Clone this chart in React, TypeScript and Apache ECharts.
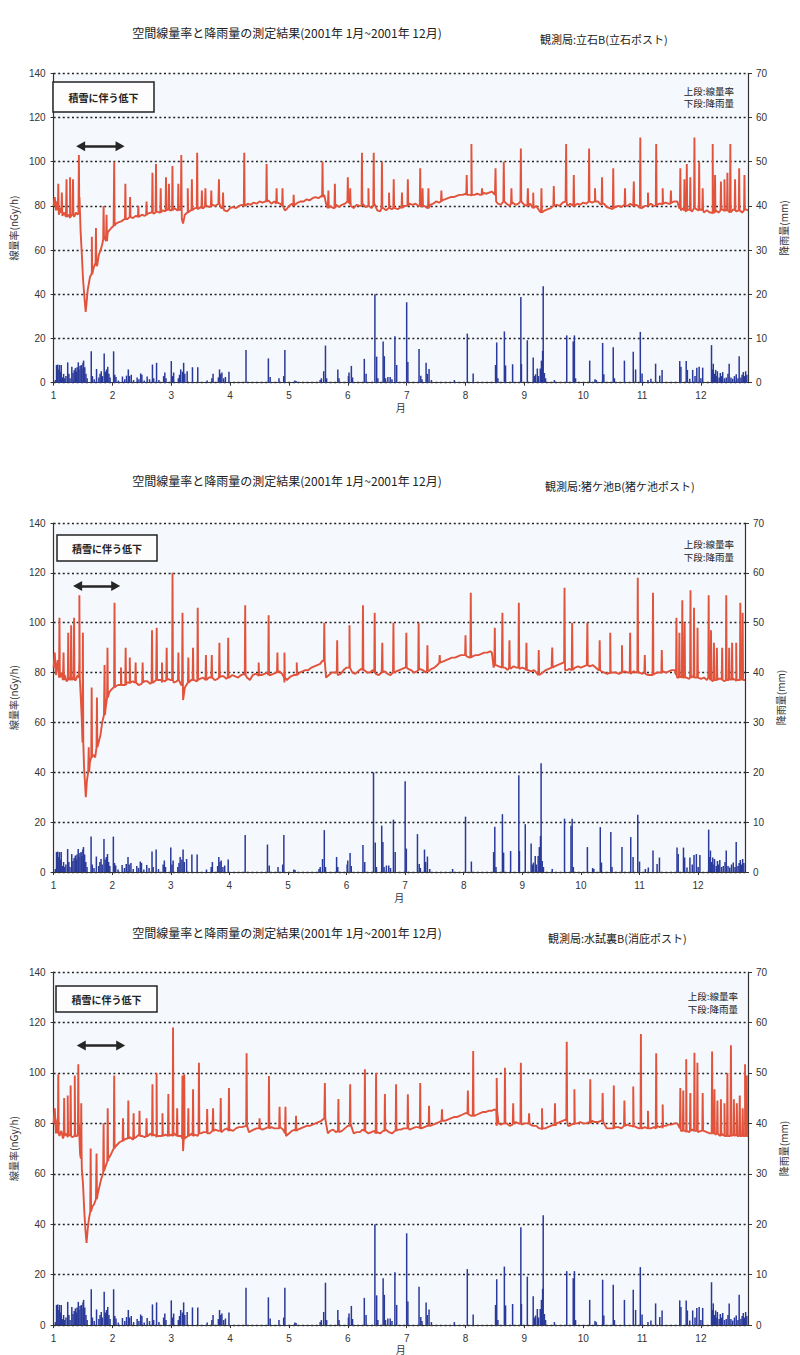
import React, { useEffect, useRef } from "react";
import * as echarts from "echarts";

// ---------- data ----------
const TITLE = "空間線量率と降雨量の測定結果(2001年 1月~2001年 12月)";
const STATIONS = ["観測局:立石B(立石ポスト)", "観測局:猪ケ池B(猪ケ池ポスト)", "観測局:水試裏B(消庇ポスト)"];
const MONTH_TICKS = [1, 2, 3, 4, 5, 6, 7, 8, 9, 10, 11, 12];

// dose-rate baseline [month, nGy/h]
const BASE_1 = [
  [1.00,80],[1.02,84],[1.04,78],[1.06,82],[1.09,76],[1.12,79],[1.15,75.5],[1.18,77],[1.21,75],[1.25,76],[1.28,74.5],[1.31,76],[1.35,75],[1.38,77],[1.41,76],[1.44,84],[1.46,68],[1.48,58],[1.50,47],[1.52,40],[1.545,32],[1.56,36],[1.58,42],[1.60,45],[1.62,48],[1.65,50],[1.68,52],[1.71,54],[1.74,53],[1.77,58],[1.80,60],[1.83,63],[1.86,66],[1.89,64],[1.92,68],[1.95,69],[1.98,70],[2.02,71],[2.06,72],[2.10,72.5],[2.15,73],[2.20,74],[2.25,74],[2.30,75],[2.35,74.5],[2.40,75.5],[2.45,75],[2.50,76],[2.55,75.5],[2.60,76.5],[2.65,77],[2.70,76.5],[2.75,77.5],[2.80,77],[2.85,78],[2.90,77.5],[2.95,78.5],[3.00,78],[3.05,79],[3.10,78],[3.15,78.5],[3.18,74],[3.20,72],[3.23,76],[3.28,77.5],[3.33,78],[3.40,79],[3.45,78.5],[3.50,79.5],[3.55,79],[3.60,80],[3.65,79.5],[3.70,80.5],[3.75,80],[3.80,81],[3.85,79],[3.90,78],[3.95,77.5],[4.00,79],[4.05,79.5],[4.10,79],[4.15,80],[4.20,80.5],[4.25,80],[4.30,81],[4.35,80.5],[4.40,81.5],[4.45,81],[4.50,82],[4.55,81.5],[4.60,82],[4.65,82.5],[4.70,81],[4.75,82],[4.80,81.5],[4.85,81],[4.90,80],[4.93,78],[4.96,78.5],[5.00,80],[5.05,81],[5.10,80.5],[5.15,81.5],[5.20,82],[5.25,82],[5.30,83],[5.35,82.5],[5.40,83.5],[5.45,84],[5.50,83.5],[5.55,84.5],[5.60,85],[5.63,81],[5.66,79],[5.70,80],[5.75,79],[5.80,80.5],[5.85,79.5],[5.90,80.5],[5.95,81],[6.00,82],[6.05,80],[6.10,79],[6.15,80.5],[6.20,80],[6.25,81],[6.30,79.5],[6.35,80.5],[6.40,79],[6.45,81],[6.50,78],[6.55,77.5],[6.60,79],[6.65,78],[6.70,79.5],[6.75,78.5],[6.80,79],[6.85,78.5],[6.90,79.5],[6.95,80],[7.00,80],[7.05,81],[7.10,80.5],[7.15,81],[7.20,80],[7.25,79.5],[7.30,80],[7.35,79],[7.40,80.5],[7.45,81],[7.50,82],[7.55,81.5],[7.60,82.5],[7.65,83],[7.70,83.5],[7.75,84],[7.80,84],[7.85,84.5],[7.90,85],[7.95,85],[8.00,85.5],[8.05,85],[8.10,84.5],[8.15,85],[8.20,85.5],[8.25,85],[8.30,86],[8.35,85.5],[8.40,86],[8.45,86.5],[8.50,85],[8.52,82],[8.55,81],[8.60,80.5],[8.65,82],[8.70,81],[8.75,80],[8.80,81.5],[8.85,80.5],[8.90,81],[8.95,82],[9.00,80.5],[9.05,80],[9.10,81],[9.15,79.5],[9.20,80],[9.25,78],[9.30,77],[9.35,78],[9.40,78.5],[9.45,79],[9.50,80],[9.55,80.5],[9.60,80],[9.65,81.5],[9.70,82],[9.73,80],[9.78,81],[9.85,80],[9.90,81],[9.95,80.5],[10.00,81.5],[10.05,81],[10.10,82],[10.15,81.5],[10.20,82.5],[10.25,82],[10.30,80.5],[10.35,81],[10.40,79.5],[10.45,79],[10.50,78.5],[10.55,79.5],[10.60,80],[10.65,79.5],[10.70,80.5],[10.75,80],[10.80,81],[10.85,80],[10.90,80.5],[10.95,79.5],[11.00,79],[11.05,80],[11.10,80.5],[11.15,81],[11.20,80],[11.25,80.5],[11.30,81],[11.35,80.5],[11.40,81.5],[11.45,81],[11.50,81.5],[11.55,82],[11.60,82],[11.63,79],[11.66,78],[11.70,79],[11.75,77.5],[11.80,78.5],[11.85,77.5],[11.90,79],[11.95,78],[12.00,78.5],[12.05,77],[12.10,78],[12.15,77],[12.20,76.5],[12.25,78],[12.30,77],[12.35,78.5],[12.40,77.5],[12.45,78],[12.50,77],[12.55,78.5],[12.60,77.5],[12.65,78],[12.70,77],[12.75,78.5],[12.80,78]
];
// spikes [month, peak, foot]
const SPIKE_1 = [
  [1.08,90,78],[1.14,86,77],[1.22,92,75],[1.28,93,75],[1.33,92,76],[1.43,103,77],[1.65,66,49],[1.72,70,53],[1.85,80,65],[1.90,76,64],[2.03,100,71],[2.22,90,74],[2.30,84,75],[2.44,80,75],[2.58,82,76],[2.68,95,77],[2.74,99,77],[2.82,88,77],[2.91,93,78],[2.96,90,78],[3.02,98,78],[3.12,90,78],[3.17,103,78],[3.28,88,77],[3.35,92,78],[3.44,104,79],[3.52,87,79],[3.58,88,80],[3.68,87,80],[3.81,92,81],[3.88,86,79],[4.24,104,80],[4.62,99,82],[4.79,88,81],[4.89,88,80],[5.08,85,80],[5.57,100,84],[5.67,87,79],[5.78,90,79],[6.00,93,82],[6.04,88,81],[6.24,104,80],[6.35,88,80],[6.44,104,80],[6.58,100,79],[6.70,86,79],[6.78,92,79],[6.92,86,79],
  [7.02,92,80],[7.23,97,80],[7.27,88,80],[7.37,88,79],[7.59,87,82],[8.02,94,85],[8.10,108,85],[8.28,88,85],[8.51,97,85],[8.65,100,82],[8.78,88,81],[8.94,106,82],[9.06,88,80],[9.15,86,79],[9.29,88,77],[9.50,89,80],[9.71,108,82],[9.84,94,80],[10.10,106,82],[10.20,88,82],[10.32,93,81],[10.51,97,79],[10.71,88,80],[10.86,91,80],[10.97,111,79],[11.10,86,80],[11.24,108,80],[11.35,88,81],[11.49,87,81],[11.65,97,79],[11.72,92,78],[11.76,99,78],[11.82,93,78],[11.89,111,79],[11.97,100,78],[12.03,88,78],[12.20,108,77],[12.24,94,77],[12.34,91,78],[12.40,92,78],[12.45,95,78],[12.50,108,77],[12.58,92,78],[12.65,97,78],[12.74,94,78]
];

const BASE_2 = [
  [1.00,82],[1.02,88],[1.04,79],[1.07,85],[1.10,78],[1.13,80],[1.16,77],[1.19,79],[1.22,76.5],[1.26,78],[1.30,77],[1.34,78],[1.38,77],[1.41,79],[1.44,85],[1.46,72],[1.48,62],[1.50,52],[1.52,42],[1.55,30],[1.57,37],[1.59,40],[1.62,44],[1.65,46],[1.68,47],[1.71,46],[1.74,50],[1.77,52],[1.80,55],[1.83,60],[1.86,63],[1.89,66],[1.92,70],[1.95,72],[1.98,73],[2.02,74],[2.06,74.5],[2.10,75],[2.15,75.5],[2.20,75],[2.25,76],[2.30,75.5],[2.35,76.5],[2.40,76],[2.45,75],[2.50,75.5],[2.55,76.5],[2.60,76.5],[2.65,75.5],[2.70,76],[2.75,77],[2.80,77],[2.85,76],[2.90,76.5],[2.95,77.5],[3.00,77],[3.05,76],[3.10,76.5],[3.18,75],[3.21,69],[3.24,74],[3.30,76],[3.35,77],[3.40,77],[3.45,76.5],[3.50,77.5],[3.55,78],[3.60,77],[3.65,78],[3.70,78],[3.75,77],[3.80,77.5],[3.85,78.5],[3.90,78.5],[3.95,77.5],[4.00,78],[4.05,79],[4.10,78.5],[4.15,78],[4.20,79],[4.25,79.5],[4.30,78],[4.35,77],[4.40,79],[4.45,79.5],[4.50,78.5],[4.55,79],[4.60,79.5],[4.65,80],[4.70,79],[4.75,79.5],[4.80,80],[4.85,80.5],[4.90,79.5],[4.94,76],[4.98,77],[5.05,78.5],[5.10,79],[5.15,79.5],[5.20,80],[5.25,80.5],[5.30,81],[5.35,81],[5.40,82],[5.45,82.5],[5.50,83],[5.55,83.5],[5.58,84.5],[5.62,85],[5.65,78],[5.70,79],[5.75,80],[5.80,80],[5.85,79],[5.90,79.5],[5.95,81],[6.00,82],[6.05,83],[6.10,80],[6.15,79.5],[6.20,80.5],[6.25,81.5],[6.30,81],[6.35,80],[6.40,80],[6.45,81],[6.50,79.5],[6.55,79],[6.60,80],[6.65,80.5],[6.70,79.5],[6.75,79],[6.80,80],[6.85,80.5],[6.90,81],[6.95,81.5],[7.00,82],[7.05,81.5],[7.10,81],[7.15,80],[7.20,80.5],[7.25,81.5],[7.30,81],[7.35,80],[7.40,80.5],[7.45,81.5],[7.50,82],[7.55,83],[7.60,84],[7.65,84.5],[7.70,85],[7.75,85.5],[7.80,86],[7.85,86],[7.90,86.5],[7.95,87],[8.00,87],[8.05,86.5],[8.10,86],[8.15,86.5],[8.20,87],[8.25,87],[8.30,87.5],[8.35,88],[8.40,88],[8.45,88.5],[8.48,88],[8.51,82],[8.55,83],[8.60,82.5],[8.65,82],[8.70,82],[8.75,81],[8.80,81.5],[8.85,82.5],[8.90,82],[8.95,81.5],[9.00,82],[9.05,81.5],[9.10,81],[9.15,80.5],[9.20,81],[9.24,80],[9.28,79],[9.32,79.5],[9.35,80],[9.40,81],[9.45,81.5],[9.50,82],[9.55,82.5],[9.60,83],[9.65,83.5],[9.70,84],[9.73,81],[9.77,81],[9.80,81.5],[9.85,81],[9.90,82],[9.95,82.5],[10.00,82],[10.05,82.5],[10.10,83],[10.15,82.5],[10.20,83],[10.25,82],[10.30,81],[10.35,80.5],[10.40,80],[10.45,79.5],[10.50,79.5],[10.55,80],[10.60,80],[10.65,79.5],[10.70,80.5],[10.75,80.5],[10.80,80],[10.85,79.5],[10.90,80.5],[10.95,80],[11.00,80],[11.05,79.5],[11.10,79.5],[11.15,79],[11.20,79],[11.25,79.5],[11.30,80],[11.35,80],[11.40,80.5],[11.45,80],[11.50,80.5],[11.55,81],[11.60,81],[11.64,78],[11.70,78.5],[11.75,78],[11.80,78],[11.85,77.5],[11.90,78.5],[11.95,78],[12.00,78],[12.05,77.5],[12.10,78],[12.15,77],[12.20,77.5],[12.25,76.5],[12.30,77],[12.35,77.5],[12.40,77.5],[12.45,76.5],[12.50,77],[12.55,77.5],[12.60,77.5],[12.65,76.5],[12.70,77],[12.75,77.5],[12.80,77]
];
const SPIKE_2 = [
  [1.10,102,78],[1.17,88,77],[1.25,96,77],[1.30,99,77],[1.35,102,77],[1.44,111,78],[1.50,96,52],[1.60,50,40],[1.65,74,46],[1.74,70,50],[1.87,83,63],[1.92,90,70],[2.04,108,74],[2.15,82,75],[2.23,90,75],[2.30,86,76],[2.40,84,76],[2.52,84,76],[2.68,97,76],[2.76,98,77],[2.85,84,77],[2.93,90,77],[3.03,120,77],[3.13,88,77],[3.20,104,75],[3.30,86,76],[3.38,90,77],[3.46,106,77],[3.60,87,77],[3.70,87,78],[3.83,92,78],[3.98,94,78],[4.27,107,79],[4.50,84,79],[4.67,103,79],[4.82,88,80],[4.94,88,78],[5.15,84,79],[5.62,100,85],[5.84,93,80],[6.05,99,82],[6.28,107,81],[6.48,104,80],[6.61,92,80],[6.80,100,80],
  [7.02,96,82],[7.23,100,81],[7.38,91,81],[7.59,87,84],[8.03,95,87],[8.12,112,86],[8.53,98,83],[8.66,104,82],[8.78,93,82],[8.94,108,82],[9.07,92,81],[9.28,89,79],[9.51,90,82],[9.72,114,84],[9.85,100,81],[10.11,100,83],[10.32,93,81],[10.50,96,80],[10.70,91,80],[10.84,96,80],[10.97,118,80],[11.09,87,80],[11.23,112,79],[11.38,89,80],[11.63,102,79],[11.68,96,78],[11.73,109,78],[11.77,100,78],[11.87,113,78],[11.93,106,78],[11.99,98,78],[12.18,111,78],[12.22,97,77],[12.27,92,77],[12.32,90,77],[12.41,90,77],[12.48,111,77],[12.53,90,77],[12.58,92,77],[12.65,92,77],[12.72,108,77],[12.76,104,77]
];

const BASE_3 = [
  [1.00,80],[1.02,86],[1.04,76],[1.07,82],[1.10,75],[1.13,77],[1.16,74],[1.20,76],[1.24,74.5],[1.28,75.5],[1.32,74.5],[1.36,76],[1.40,75],[1.43,80],[1.45,68],[1.48,62],[1.50,56],[1.52,46],[1.54,38],[1.56,32.6],[1.58,38],[1.60,42],[1.63,45],[1.66,47],[1.69,48],[1.72,50],[1.75,52],[1.78,55],[1.81,58],[1.84,60],[1.87,62],[1.90,64],[1.93,66],[1.96,67],[2.00,69],[2.04,70.5],[2.08,71.5],[2.12,72.5],[2.16,73],[2.20,73.5],[2.25,74],[2.30,74.5],[2.35,73.5],[2.40,74.5],[2.45,75.5],[2.50,75],[2.55,74.5],[2.60,75],[2.65,76],[2.70,75.5],[2.75,74.5],[2.80,75],[2.85,76],[2.90,75.5],[2.95,75],[3.00,75.5],[3.05,76],[3.10,75],[3.17,75],[3.20,69],[3.23,74],[3.30,75],[3.35,76],[3.40,75.5],[3.45,75],[3.50,76],[3.55,76.5],[3.60,76.5],[3.65,76],[3.70,77],[3.75,77.5],[3.80,77],[3.85,76.5],[3.90,77.5],[3.95,78],[4.00,77.5],[4.05,77],[4.10,78],[4.15,78.5],[4.20,78.5],[4.28,79],[4.32,76.5],[4.36,77],[4.40,77.5],[4.45,78],[4.50,78],[4.55,77.5],[4.60,78],[4.65,78.5],[4.70,78.5],[4.75,78],[4.80,78],[4.85,78.5],[4.90,77.5],[4.95,75],[5.00,76],[5.05,77],[5.10,77.5],[5.15,77.5],[5.20,78],[5.25,78.5],[5.30,79],[5.35,79],[5.40,79.5],[5.45,80],[5.50,80.5],[5.55,81],[5.60,82],[5.63,80],[5.66,76],[5.70,77],[5.75,77.5],[5.80,76.5],[5.85,76.5],[5.90,77],[5.95,78],[6.00,79],[6.05,79.5],[6.10,76],[6.15,76.5],[6.20,76.5],[6.25,77.5],[6.30,77],[6.35,76],[6.40,76.5],[6.45,77],[6.50,76.5],[6.55,76],[6.60,77],[6.65,77.5],[6.70,76.5],[6.75,76],[6.80,77],[6.85,77.5],[6.90,77.5],[6.95,78],[7.00,78],[7.05,77.5],[7.10,78],[7.15,78.5],[7.20,78.5],[7.25,78],[7.30,78.5],[7.35,79],[7.40,79],[7.45,79.5],[7.50,80],[7.55,80.5],[7.60,81],[7.65,81],[7.70,81.5],[7.75,82],[7.80,82.5],[7.85,82.5],[7.90,83],[7.95,83.5],[8.00,84],[8.05,83.5],[8.10,83],[8.15,83],[8.20,83.5],[8.25,84],[8.30,84.5],[8.35,84.5],[8.40,85],[8.45,85],[8.50,85.5],[8.53,79],[8.56,80],[8.60,79.5],[8.65,80],[8.70,80],[8.75,79],[8.80,79.5],[8.85,80.5],[8.90,80],[8.95,79.5],[9.00,80],[9.05,80],[9.10,79.5],[9.15,79],[9.20,79],[9.25,78],[9.30,77.5],[9.35,78],[9.40,78.5],[9.45,79],[9.50,79.5],[9.55,80],[9.60,80.5],[9.65,81],[9.70,81.5],[9.74,79],[9.77,79],[9.80,79.5],[9.85,79.5],[9.90,80],[9.95,80.5],[10.00,80],[10.05,80],[10.10,80.5],[10.15,81],[10.20,80.5],[10.25,80.5],[10.30,81],[10.35,80],[10.40,78],[10.45,78],[10.50,78],[10.55,78.5],[10.60,78.5],[10.65,78],[10.70,79],[10.75,79.5],[10.80,79],[10.85,78.5],[10.90,78.5],[10.95,78],[11.00,78],[11.05,78.5],[11.10,78.5],[11.15,78],[11.20,78.5],[11.25,79],[11.30,78.5],[11.35,78],[11.40,79],[11.45,79.5],[11.50,79.5],[11.55,80],[11.60,80],[11.66,77],[11.70,77],[11.75,76.5],[11.80,76.5],[11.85,77.5],[11.90,77],[11.95,76.5],[12.00,77],[12.05,77],[12.10,76.5],[12.15,76],[12.20,76],[12.25,75.5],[12.30,75.5],[12.35,76],[12.40,75.5],[12.45,75],[12.50,75],[12.55,75.5],[12.60,75.5],[12.65,75],[12.70,75],[12.75,75.5],[12.80,75]
];
const SPIKE_3 = [
  [1.08,99.5,76],[1.18,90,75],[1.24,91,75],[1.29,95,75],[1.36,99,75],[1.42,103.4,76],[1.47,88,66],[1.63,70,45],[1.73,68,50],[1.85,80,61],[1.92,86,65],[2.03,99,70],[2.18,82,73],[2.27,89,74],[2.36,84,74],[2.46,85,75],[2.58,82,75],[2.68,95.5,75],[2.75,100,75],[2.85,84,75],[2.95,91.6,75],[3.03,118,75],[3.10,86,75],[3.19,99,74],[3.22,99.5,74],[3.29,86,75],[3.37,93.5,75],[3.47,104,76],[3.61,85.7,76],[3.71,86,77],[3.84,90,77],[3.98,94,77],[4.28,107.8,79],[4.50,82,78],[4.66,98.8,78],[4.84,86.6,78],[4.94,86.6,76],[5.12,83,77],[5.61,96,82],[5.84,89.6,77],[6.04,95.5,79],[6.29,101.4,77],[6.48,100,76],[6.63,91.6,77],[6.82,95.5,77],
  [7.02,91.5,78],[7.23,96,78],[7.38,87,79],[7.60,85.6,81],[8.04,93,84],[8.13,108.7,83],[8.53,98,85],[8.67,102,80],[8.81,88,80],[8.94,104,80],[9.08,84,80],[9.30,86,78],[9.52,88,79],[9.72,112.3,81],[9.85,93.5,80],[10.12,97.5,80],[10.33,92,81],[10.52,95,78],[10.70,89,79],[10.85,94.6,79],[10.98,115.4,78],[11.10,85,78],[11.24,107.8,78],[11.35,87.5,79],[11.65,94,78],[11.70,93,77],[11.75,105.4,77],[11.82,92,77],[11.89,108,77],[11.94,104,77],[12.03,92,77],[12.19,108.5,76],[12.23,93.5,76],[12.28,89,76],[12.34,89.5,75],[12.40,88,75],[12.45,100,75],[12.51,111,75],[12.56,89.5,75],[12.61,88,75],[12.66,91,75],[12.71,86,75],[12.75,103.4,75],[12.78,99,75]
];

// rainfall [month, mm] (the three panels show the same record)
const RAIN = [
  [1.03,0.6],[1.05,4],[1.07,4.1],[1.09,3],[1.10,4],[1.12,2.5],[1.13,4],[1.15,1.2],[1.17,2],[1.19,1],[1.21,1.5],[1.24,4.6],[1.26,2],[1.28,1],[1.31,3.6],[1.33,2.2],[1.35,2.8],[1.37,3.3],[1.39,2.5],[1.40,3.5],[1.42,4.6],[1.43,3],[1.45,3.8],[1.47,4],[1.48,3.2],[1.50,4.5],[1.51,5],[1.53,3.5],[1.55,2],[1.57,1],[1.64,7.1],[1.66,1.5],[1.69,0.8],[1.73,3.1],[1.77,1.2],[1.79,2],[1.81,2.6],[1.83,1.5],[1.86,6.6],[1.88,2.5],[1.90,3],[1.92,3.6],[1.94,2],[1.96,1.2],[2.02,7.1],[2.04,1.8],[2.06,1.3],[2.10,0.5],[2.17,1.4],[2.21,0.8],[2.24,1.6],[2.27,3],[2.29,1.5],[2.32,1.8],[2.36,0.6],[2.42,1.2],[2.45,0.8],[2.48,2.1],[2.50,1.8],[2.54,0.5],[2.59,1.4],[2.63,0.8],[2.68,4.1],[2.70,1],[2.75,4.5],[2.79,0.6],[2.87,1.5],[2.89,2.3],[2.91,1],[3.00,4.9],[3.02,1.5],[3.04,2.3],[3.12,1],[3.14,1.8],[3.16,3],[3.19,2.5],[3.21,4.5],[3.23,2],[3.27,2.6],[3.36,3.5],[3.45,3.5],[3.61,0.5],[3.69,1],[3.71,2],[3.80,1.2],[3.82,3],[3.84,2],[3.86,2.3],[3.89,1],[3.92,1.3],[3.98,2.5],[4.27,7.4],[4.65,5.5],[4.68,1.3],[4.83,1],[4.91,1.5],[4.93,7.4],[5.10,0.5],[5.12,0.4],[5.53,0.6],[5.55,1],[5.59,2.6],[5.62,8.4],[5.64,1],[5.83,3],[5.85,1],[6.01,1.5],[6.02,2.3],[6.06,3.8],[6.08,1.2],[6.28,5.4],[6.31,2],[6.46,20],[6.49,5.9],[6.51,1],[6.60,9.3],[6.62,6],[6.64,1],[6.68,1.3],[6.72,1.3],[6.75,0.8],[6.80,10.5],[6.83,4],
  [7.00,18.2],[7.02,4.7],[7.21,7.6],[7.24,1.6],[7.26,0.8],[7.33,4.5],[7.35,2],[7.38,3.1],[7.42,0.6],[7.81,0.6],[8.03,11.1],[8.13,2.1],[8.51,4],[8.53,9.1],[8.55,1],[8.66,11.6],[8.68,3.9],[8.80,4.2],[8.94,19.4],[8.95,4.2],[9.05,9.6],[9.15,5.7],[9.17,1.5],[9.19,1.9],[9.22,3.2],[9.24,1.5],[9.27,3.2],[9.29,5],[9.31,7.2],[9.32,21.8],[9.34,2.2],[9.36,1],[9.51,0.6],[9.72,10.7],[9.83,9.3],[9.85,10.7],[9.87,1],[10.11,5],[10.20,0.8],[10.22,0.6],[10.33,9],[10.35,1.9],[10.51,8],[10.53,1],[10.70,5],[10.85,7],[10.89,3],[10.97,11.5],[11.00,2.1],[11.10,0.6],[11.15,0.9],[11.23,4.3],[11.30,1.6],[11.34,2.9],[11.64,4.9],[11.66,3.6],[11.75,4.9],[11.77,2.9],[11.81,0.9],[11.86,2.9],[11.90,1.5],[11.93,3.4],[11.97,3.6],[12.00,1],[12.03,3.4],[12.18,8.5],[12.20,3],[12.21,4.3],[12.23,2],[12.25,2.9],[12.27,1.5],[12.28,2.6],[12.31,1.2],[12.33,2.2],[12.35,1.5],[12.37,2.4],[12.40,1],[12.43,1.2],[12.46,2],[12.48,4.3],[12.51,1.2],[12.54,0.9],[12.57,1.5],[12.60,1.9],[12.63,1],[12.65,6],[12.68,1.2],[12.70,1.8],[12.72,2.4],[12.74,1.5],[12.76,2.6],[12.78,1.8]
];

// arrow ("積雪に伴う低下" period) [startMonth, endMonth, level]
const ARROWS = [[1.46, 2.13, 107], [1.41, 2.06, 114.7], [1.47, 2.14, 110.9]];

// ---------- layout ----------
const PANELS = [
  { grid: { left: 48.5, top: 73.3, width: 699.5, height: 309.4 }, titleY: 32, st: [540, 39], box: [53, 82, 101, 30], lab: [734, 91, 103], lg: 29, rg: 22, xg: 20 },
  { grid: { left: 53, top: 523, width: 692, height: 349 }, titleY: 480, st: [545, 486], box: [57, 535, 100, 26], lab: [734, 544, 557], lg: 30, rg: 25, xg: 20 },
  { grid: { left: 52.5, top: 972, width: 695.5, height: 355.5 }, titleY: 932, st: [548, 938], box: [56, 986, 101, 26], lab: [738, 996, 1009], lg: 31, rg: 24, xg: 18 },
];
const SERIES_DATA = [[BASE_1, SPIKE_1], [BASE_2, SPIKE_2], [BASE_3, SPIKE_3]];

const FONT = "'Liberation Sans', 'Noto Sans CJK JP', sans-serif";
const JP = "'Noto Sans CJK JP', sans-serif";

function buildLine(base: number[][], spikes: number[][]) {
  const pts: number[][] = base.map((p) => [p[0], p[1]]);
  spikes.forEach(([m, peak, foot]) => {
    pts.push([m - 0.007, foot]);
    pts.push([m, peak]);
    pts.push([m + 0.007, foot]);
  });
  pts.sort((a, b) => a[0] - b[0]);
  return pts;
}

export default function App() {
  const ref = useRef<HTMLDivElement>(null);
  useEffect(() => {
    if (!ref.current) return;
    const chart = echarts.init(ref.current, null, { renderer: "svg" });
    const axisColor = "#333";
    const grids: any[] = [];
    const xAxes: any[] = [];
    const yAxes: any[] = [];
    const series: any[] = [];
    const graphic: any[] = [];
    PANELS.forEach((p, i) => {
      grids.push({ ...p.grid, show: true, backgroundColor: "#f5f8fc", borderWidth: 0 });
      xAxes.push({
        type: "value", gridIndex: i, min: 1, max: 12.8, interval: 1,
        name: "月", nameLocation: "middle", nameGap: p.xg,
        nameTextStyle: { fontSize: 10, color: axisColor, fontFamily: JP },
        axisLine: { show: true, onZero: false, lineStyle: { color: axisColor, width: 1.2 } },
        axisTick: { show: true, length: 3, lineStyle: { color: axisColor } },
        axisLabel: {
          fontSize: 10, color: axisColor, margin: 8, fontFamily: FONT, showMaxLabel: false,
          formatter: (v: number) => (MONTH_TICKS.indexOf(v) >= 0 ? String(v) : ""),
        },
        splitLine: { show: false },
      });
      yAxes.push({
        type: "value", gridIndex: i, min: 0, max: 140, interval: 20, position: "left",
        name: "線量率(nGy/h)", nameLocation: "middle", nameGap: p.lg, nameRotate: 90,
        nameTextStyle: { fontSize: 10, color: axisColor, fontFamily: JP },
        axisLine: { show: true, lineStyle: { color: axisColor, width: 1.2 } },
        axisTick: { show: true, length: 3, lineStyle: { color: axisColor } },
        axisLabel: { fontSize: 10, color: axisColor, margin: 8, fontFamily: FONT },
        splitLine: { show: true, lineStyle: { color: "#222", type: [2, 2.6], width: 1.3 } },
      });
      yAxes.push({
        type: "value", gridIndex: i, min: 0, max: 70, interval: 10, position: "right",
        name: "降雨量(mm)", nameLocation: "middle", nameGap: p.rg, nameRotate: 90,
        nameTextStyle: { fontSize: 10, color: axisColor, fontFamily: JP },
        axisLine: { show: true, lineStyle: { color: axisColor, width: 1.2 } },
        axisTick: { show: true, length: 4, lineStyle: { color: axisColor } },
        axisLabel: { fontSize: 10, color: axisColor, margin: 8, fontFamily: FONT },
        splitLine: { show: false },
      });
      series.push({
        type: "bar", xAxisIndex: i, yAxisIndex: 2 * i + 1, data: RAIN, barWidth: 1.5,
        itemStyle: { color: "#2a3a9a" }, z: 2, silent: true,
      });
      const [base, spikes] = SERIES_DATA[i];
      const a = ARROWS[i];
      series.push({
        type: "line", xAxisIndex: i, yAxisIndex: 2 * i, data: buildLine(base, spikes),
        showSymbol: false, symbol: "none", lineStyle: { color: "#e2533c", width: 1.9 }, z: 3, silent: true,
        markLine: {
          silent: true, symbol: ["triangle", "triangle"], symbolSize: [10, 9], label: { show: false },
          lineStyle: { color: "#262626", width: 2.5, type: "solid" },
          data: [[{ coord: [a[0], a[2]] }, { coord: [a[1], a[2]] }]],
        },
      });
      graphic.push(
        { type: "text", x: 287, y: p.titleY, style: { text: TITLE, fontSize: 12, fill: "#222", fontFamily: JP, align: "center", verticalAlign: "middle" } },
        { type: "text", x: p.st[0], y: p.st[1], style: { text: STATIONS[i], fontSize: 11, fill: "#222", fontFamily: JP, align: "left", verticalAlign: "middle" } },
        { type: "rect", shape: { x: p.box[0], y: p.box[1], width: p.box[2], height: p.box[3] }, style: { fill: "#fdfdfe", stroke: "#222", lineWidth: 1.5 }, z: 10 },
        { type: "text", x: p.box[0] + p.box[2] / 2, y: p.box[1] + p.box[3] / 2, style: { text: "積雪に伴う低下", fontSize: 10, fontWeight: "bold", fill: "#222", fontFamily: JP, align: "center", verticalAlign: "middle" }, z: 11 },
        { type: "text", x: p.lab[0], y: p.lab[1], style: { text: "上段:線量率", fontSize: 9.5, fill: "#222", fontFamily: JP, align: "right", verticalAlign: "middle" }, z: 11 },
        { type: "text", x: p.lab[0], y: p.lab[2], style: { text: "下段:降雨量", fontSize: 9.5, fill: "#222", fontFamily: JP, align: "right", verticalAlign: "middle" }, z: 11 },
      );
    });
    chart.setOption({
      animation: false,
      backgroundColor: "#ffffff",
      grid: grids,
      xAxis: xAxes,
      yAxis: yAxes,
      series,
      graphic,
    });
    return () => chart.dispose();
  }, []);
  return <div ref={ref} style={{ position: "absolute", left: 0, top: 0, width: 800, height: 1355 }} />;
}
